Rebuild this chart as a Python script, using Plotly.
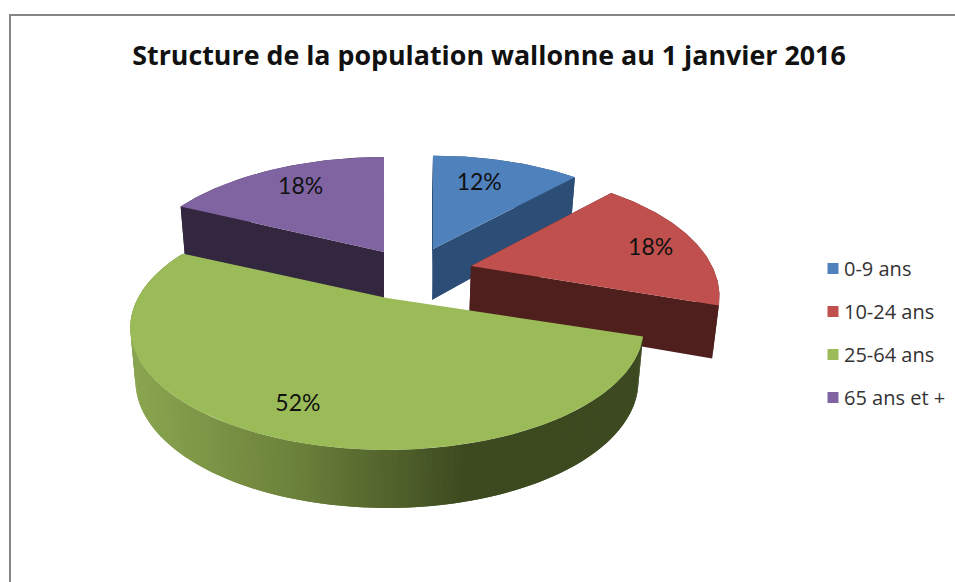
import math
import plotly.graph_objects as go

# ---- data ----
categories = ["0-9 ans", "10-24 ans", "25-64 ans", "65 ans et +"]
values = [12, 18, 52, 18]
colors = ["#4f81bd", "#c0504d", "#9bbb59", "#8064a2"]
wall_colors = ["#2c4d75", "#4f1f1e", None, "#33263f"]
title_text = "Structure de la population wallonne au 1 janvier 2016"

# ---- projection of the exploded 3D pie (pixel-space axes) ----
apex = [(433, 249), (471, 266), (387, 298), (384, 252)]
RX = [244.0, 241.0, 249.0, 248.0]
RY = [116.0, 118.0, 115.0, 118.0]
P = 0.243
CX = 385.0
draw_order = [3, 0, 1, 2]
wall_stops = [(135, (138, 165, 80)), (300, (106, 128, 58)), (465, (61, 74, 32)), (650, (61, 74, 32))]
label_nudge = [(-12, 5), (10, 5), (-5, 9), (4, 2)]


def top_point(i, r, deg):
    t = math.radians(deg)
    u, v = r * math.sin(t), -r * math.cos(t)
    s = 1 / (1 - P * v)
    return apex[i][0] + RX[i] * u * s, apex[i][1] + RY[i] * v * s


def bottom_point(i, r, deg):
    x, y = top_point(i, r, deg)
    v = -r * math.cos(math.radians(deg))
    return CX + (x - CX) * 0.98, y + 51 + 7 * v


def gradient(x):
    for (x0, c0), (x1, c1) in zip(wall_stops, wall_stops[1:]):
        if x <= x1:
            k = max(0.0, (x - x0) / (x1 - x0))
            return "rgb(%d,%d,%d)" % tuple(a + (b - a) * k for a, b in zip(c0, c1))
    return "rgb(61,74,32)"


def polygon(points, color):
    return go.Scatter(
        x=[p[0] for p in points], y=[p[1] for p in points],
        mode="lines", fill="toself", fillcolor=color,
        line=dict(color=color, width=0), hoverinfo="skip", showlegend=False,
    )


edges = [0]
for value in values:
    edges.append(edges[-1] + value * 360 / sum(values))

fig = go.Figure()
for i in draw_order:
    a0, a1 = edges[i], edges[i + 1]
    n = max(2, int((a1 - a0) / 1.0))
    angles = [a0 + (a1 - a0) * k / n for k in range(n + 1)]
    # rim wall, each strip overlapping the next so that no seam shows
    if wall_colors[i]:
        rim = [top_point(i, 1, a) for a in angles] + [bottom_point(i, 1, a) for a in reversed(angles)]
        fig.add_trace(polygon(rim, wall_colors[i]))
        for a in (a0, a1):
            fig.add_trace(polygon([top_point(i, 0, a), top_point(i, 1, a),
                                   bottom_point(i, 1, a), bottom_point(i, 0, a)], wall_colors[i]))
    else:
        left_to_right = list(reversed(angles))
        for k, a in enumerate(left_to_right[:-1]):
            span = left_to_right[k:k + 3]
            pts = [top_point(i, 1, s) for s in span] + [bottom_point(i, 1, s) for s in reversed(span)]
            fig.add_trace(polygon(pts, gradient(top_point(i, 1, a)[0])))
    fig.add_trace(polygon([top_point(i, 0, a0)] + [top_point(i, 1, a) for a in angles], colors[i]))

# data labels
label_pts = [top_point(i, 0.76, (edges[i] + edges[i + 1]) / 2) for i in range(4)]
fig.add_trace(go.Scatter(
    x=[p[0] + d[0] for p, d in zip(label_pts, label_nudge)],
    y=[p[1] + d[1] for p, d in zip(label_pts, label_nudge)],
    text=[f"{v}%" for v in values], mode="text", textposition="middle center",
    textfont=dict(family="Lato", size=23, color="#111111"),
    hoverinfo="skip", showlegend=False,
))

# legend entries
for name, color in zip(categories, colors):
    fig.add_trace(go.Scatter(
        x=[None], y=[None], mode="markers", name=name, legendgroup=name,
        marker=dict(symbol="square", size=11, color=color),
    ))

fig.update_layout(
    width=955, height=582, autosize=False,
    margin=dict(l=0, r=0, t=0, b=0),
    paper_bgcolor="white", plot_bgcolor="white",
    xaxis=dict(range=[0, 955], visible=False, fixedrange=True),
    yaxis=dict(range=[582, 0], visible=False, fixedrange=True),
    title=dict(text="<b>" + title_text + "</b>", x=489 / 955, xanchor="center",
               y=1 - 56 / 582, yanchor="middle",
               font=dict(family="Open Sans", size=26.8, color="#111111")),
    legend=dict(x=804 / 955, y=1 - 249 / 582, xanchor="left", yanchor="top",
                tracegroupgap=14, bgcolor="rgba(0,0,0,0)",
                font=dict(family="Open Sans", size=20, color="#333333")),
    shapes=[dict(type="path", path="M 956 15 L 10 15 L 10 583",
                 xref="x", yref="y", line=dict(color="#868686", width=2))],
)

post = """
document.body.style.margin = '0';
var gd = document.querySelector('.js-plotly-plot');
function nudge() {
  document.querySelectorAll('.legendsymbols').forEach(function (e) {
    e.setAttribute('transform', 'translate(9,0)');
  });
}
nudge();
if (gd && gd.on) { gd.on('plotly_afterplot', nudge); }
"""
fig.write_html("out.html", post_script=post, config={"displayModeBar": False})
